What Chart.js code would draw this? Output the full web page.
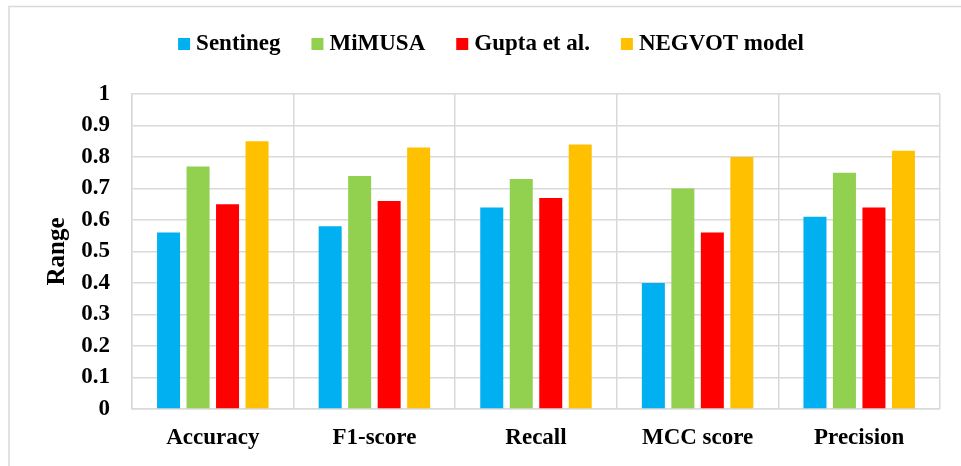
<!DOCTYPE html>
<html>
<head>
<meta charset="utf-8">
<script src="https://cdn.jsdelivr.net/npm/chart.js@4"></script>
<style>
  html, body { margin: 0; padding: 0; background: #fff; overflow: hidden; }
  canvas { display: block; }
</style>
</head>
<body>
<canvas id="chart" width="961" height="466"></canvas>
<script>
// Evaluation metrics per method
const categories = ['Accuracy', 'F1-score', 'Recall', 'MCC score', 'Precision'];
const seriesNames = ['Sentineg', 'MiMUSA', 'Gupta et al.', 'NEGVOT model'];
const sentineg = [0.56, 0.58, 0.64, 0.40, 0.61];
const mimusa   = [0.77, 0.74, 0.73, 0.70, 0.75];
const gupta    = [0.65, 0.66, 0.67, 0.56, 0.64];
const negvot   = [0.85, 0.83, 0.84, 0.80, 0.82];
const yTicks   = ['0', '0.1', '0.2', '0.3', '0.4', '0.5', '0.6', '0.7', '0.8', '0.9', '1'];

const colors = ['#00B0F0', '#92D050', '#FF0000', '#FFC000'];
const SERIF = "'Liberation Serif', 'Times New Roman', serif";
const GRID = '#d9d9d9';

// Frame around the figure plus a legend row of square swatches
const framePlugin = {
  id: 'frameAndLegend',
  beforeDraw(chart) {
    const ctx = chart.ctx;
    ctx.save();
    ctx.fillStyle = '#fff';
    ctx.fillRect(0, 0, chart.width, chart.height);
    ctx.strokeStyle = GRID;
    ctx.lineWidth = 1.5;
    ctx.beginPath();
    ctx.moveTo(9, chart.height + 2);
    ctx.lineTo(9, 6.5);
    ctx.lineTo(chart.width + 2, 6.5);
    ctx.stroke();
    ctx.restore();
  },
  afterDraw(chart) {
    const ctx = chart.ctx;
    ctx.save();
    ctx.font = 'bold 23px ' + SERIF;
    ctx.textBaseline = 'alphabetic';
    const box = 12, gapBox = 6, gapItem = 31;
    const items = chart.data.datasets.map(ds => ({
      label: ds.label, color: ds.backgroundColor, w: ctx.measureText(ds.label).width
    }));
    let total = 0;
    items.forEach((it, i) => { total += box + gapBox + it.w + (i < items.length - 1 ? gapItem : 0); });
    let x = 491 - total / 2;
    const cy = 44;
    items.forEach(it => {
      ctx.fillStyle = it.color;
      ctx.fillRect(x, cy - box / 2, box, box);
      x += box + gapBox;
      ctx.fillStyle = '#000';
      ctx.fillText(it.label, x, cy + 6);
      x += it.w + gapItem;
    });
    ctx.restore();
  }
};

const seriesValues = [sentineg, mimusa, gupta, negvot];

new Chart(document.getElementById('chart'), {
  type: 'bar',
  data: {
    labels: categories,
    datasets: seriesNames.map((name, i) => ({
      label: name,
      data: seriesValues[i],
      backgroundColor: colors[i],
      borderWidth: 0,
      categoryPercentage: 0.73,
      barPercentage: 0.78
    }))
  },
  options: {
    responsive: false,
    animation: false,
    devicePixelRatio: 1,
    layout: { padding: { left: 43, right: 21, top: 94, bottom: 0 } },
    plugins: {
      legend: { display: false },
      tooltip: { enabled: false }
    },
    scales: {
      x: {
        grid: { color: GRID, lineWidth: 1.5, offset: true, drawTicks: false },
        border: { color: GRID, width: 1.5 },
        ticks: {
          color: '#000',
          padding: 15,
          font: { family: SERIF, size: 23, weight: 'bold' }
        },
        afterFit(scale) { scale.height = 57; }
      },
      y: {
        min: 0,
        max: 1,
        grid: { color: GRID, lineWidth: 1.5, drawTicks: false },
        border: { color: GRID, width: 1.5 },
        ticks: {
          stepSize: 0.1,
          color: '#000',
          padding: 22,
          font: { family: SERIF, size: 23, weight: 'bold' },
          callback: (v, i) => yTicks[i]
        },
        title: {
          display: true,
          text: 'Range',
          color: '#000',
          padding: { top: 0, bottom: 0 },
          font: { family: SERIF, size: 25, weight: 'bold' }
        },
        afterFit(scale) { scale.width = 89; }
      }
    }
  },
  plugins: [framePlugin]
});
</script>
</body>
</html>
